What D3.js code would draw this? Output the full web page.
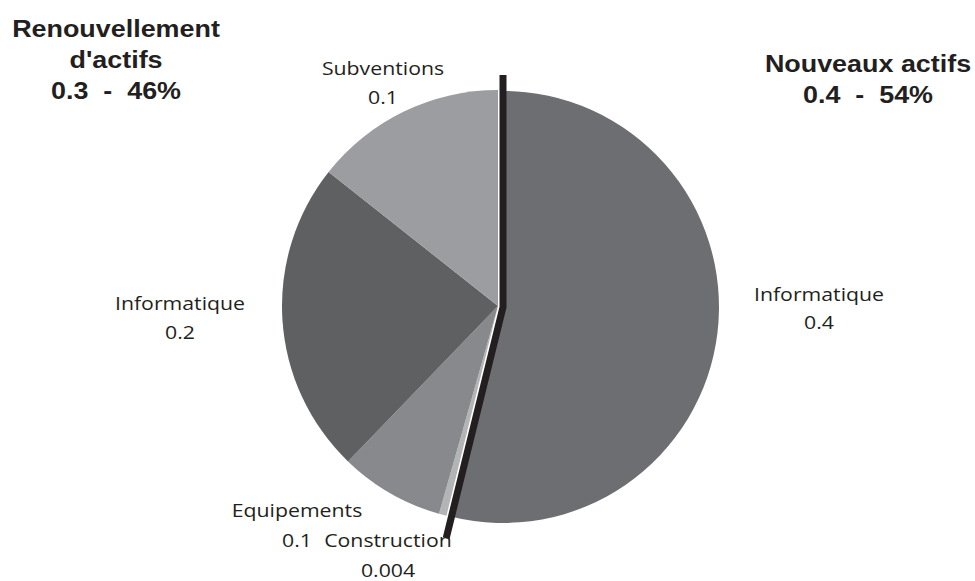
<!DOCTYPE html>
<html>
<head>
<meta charset="utf-8">
<script src="https://cdn.jsdelivr.net/npm/d3@7"></script>
<style>
  body { margin: 0; background: #fff; }
  svg { display: block; }
  .lbl { font-family: "Open Sans", sans-serif; font-size: 19px; fill: #231f20; }
  .grp { font-family: "Liberation Sans", Arial, sans-serif; font-weight: bold; font-size: 23px; fill: #231f20; }
</style>
</head>
<body>
<svg id="chart" width="975" height="581"></svg>
<script>
// slices clockwise from 12 o'clock
const categories = ["Informatique", "Construction", "Equipements", "Informatique", "Subventions"];
const values = [0.379, 0.004, 0.055, 0.165, 0.101];
const valueLabels = ["0.4", "0.004", "0.1", "0.2", "0.1"];
const groupTitles = [
	["Renouvellement", "d'actifs", "0.3  -  46%"],
	["Nouveaux actifs", "0.4  -  54%"]
];
const colors = ["#6d6e71", "#b3b4b6", "#88898c", "#5f6062", "#9c9da0"];

const svg = d3.select("#chart");
const cx = 498, cy = 306, radius = 216;

const pie = d3.pie().sort(null).value(d => d)(values);
const arc = d3.arc().innerRadius(0).outerRadius(radius);

const g = svg.append("g").attr("transform", `translate(${cx},${cy})`);

// the "new assets" slice is pulled out a little
const offset = i => i === 0 ? [5, 1] : [0, 0];

g.selectAll("path.slice")
	.data(pie)
	.join("path")
	.attr("class", "slice")
	.attr("transform", (d, i) => `translate(${offset(i)})`)
	.attr("d", arc)
	.attr("fill", (d, i) => colors[i]);

// black separators around the "Nouveaux actifs" group
const first = pie[0];
const [ox, oy] = offset(0);
const pt = (a, r) => [ox + r * Math.sin(a), oy - r * Math.cos(a)];
const sep = [pt(first.startAngle, 232), [ox, oy], pt(first.endAngle, 238)];
g.append("path")
	.attr("d", d3.line()(sep))
	.attr("fill", "none")
	.attr("stroke", "#231f20")
	.attr("stroke-width", 7)
	.attr("stroke-linejoin", "miter");

// text stretched a bit wider, like the source
const putText = (cls, x, y, anchor, s, sx) =>
	svg.append("text").attr("class", cls)
		.attr("transform", `translate(${x},${y}) scale(${sx},1)`)
		.attr("text-anchor", anchor)
		.text(s);

// slice labels (name + value)
const labelPos = [
	{x: 819, y: 301, dy: 28},
	{x: 388, y: 547, dy: 30},
	{x: 297, y: 517, dy: 30},
	{x: 180, y: 310, dy: 29},
	{x: 383, y: 75, dy: 29}
];

pie.forEach((d, i) => {
	const p = labelPos[i];
	putText("lbl", p.x, p.y, "middle", categories[i], 1.12);
	if (i === 2) {
		putText("lbl", 312, p.y + p.dy, "end", valueLabels[i], 1.12);
	} else {
		putText("lbl", p.x, p.y + p.dy, "middle", valueLabels[i], 1.12);
	}
});

// group titles
const titlePos = [{x: 116, y: 37}, {x: 868, y: 72}];
groupTitles.forEach((lines, k) => {
	lines.forEach((s, j) => {
		putText("grp", titlePos[k].x, titlePos[k].y + j * 31, "middle", s, 1.17)
			.attr("xml:space", "preserve")
			.style("white-space", "pre");
	});
});
</script>
</body>
</html>
